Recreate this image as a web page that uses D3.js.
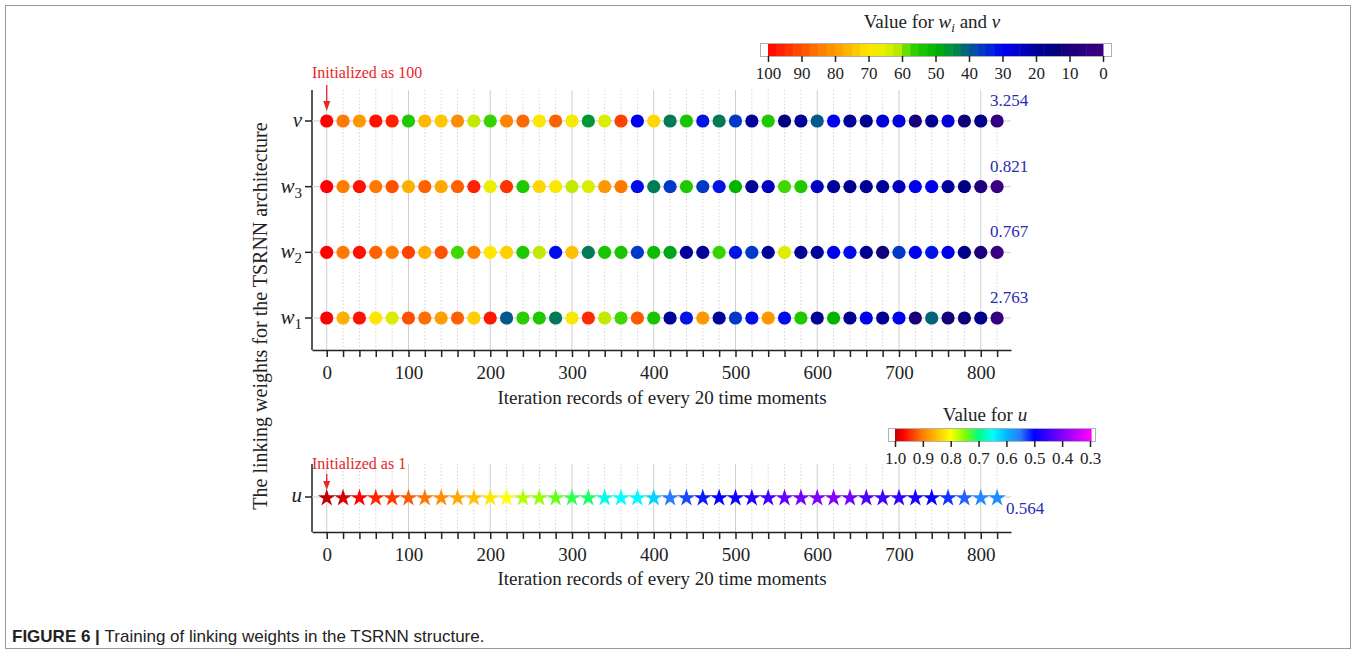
<!DOCTYPE html>
<html>
<head>
<meta charset="utf-8">
<script src="https://cdn.jsdelivr.net/npm/d3@7"></script>
<style>
  body { margin: 0; background: #fff; }
  svg { display: block; }
</style>
</head>
<body>
<svg id="chart" width="1356" height="654"></svg>
<script>
// Iteration records (every 20 time moments)
const iterations = [0, 20, 40, 60, 80, 100, 120, 140, 160, 180, 200, 220, 240, 260, 280, 300, 320, 340, 360, 380, 400,
  420, 440, 460, 480, 500, 520, 540, 560, 580, 600, 620, 640, 660, 680, 700, 720, 740, 760, 780, 800, 820];

// Linking weight values at each record
const vValues  = [100, 85, 80, 98, 96, 55, 76, 74, 82, 62, 57, 83, 87, 70, 88, 68, 46, 64, 92, 30, 72,
  43, 54, 32, 43, 36, 20, 55, 15, 20, 40, 30, 20, 18, 27, 28, 10, 19, 27, 12, 17, 3.254];
const w3Values = [100, 84, 98, 85, 90, 77, 88, 78, 88, 96, 66, 94, 55, 72, 69, 62, 64, 80, 85, 31, 43,
  36, 55, 36, 32, 50, 20, 24, 58, 55, 24, 20, 18, 19, 20, 24, 30, 30, 20, 16, 8, 0.821];
const w2Values = [100, 85, 98, 88, 84, 92, 77, 90, 58, 84, 70, 73, 55, 62, 31, 75, 43, 54, 54, 36, 52,
  48, 20, 20, 57, 32, 36, 19, 64, 19, 20, 30, 31, 18, 12, 36, 30, 32, 29, 17, 9, 0.767];
const w1Values = [100, 77, 98, 70, 64, 90, 86, 79, 88, 73, 97, 40, 56, 55, 43, 68, 95, 62, 58, 89, 54,
  20, 32, 80, 20, 36, 31, 80, 31, 55, 19, 50, 19, 30, 19, 30, 10, 41, 11, 12, 17, 2.763];
const uValues  = [1.0, 0.99, 0.97, 0.95, 0.94, 0.92, 0.905, 0.89, 0.87, 0.85, 0.82, 0.80, 0.77, 0.76, 0.74, 0.72, 0.71, 0.66, 0.65, 0.645, 0.62,
  0.55, 0.53, 0.51, 0.50, 0.49, 0.47, 0.45, 0.42, 0.41, 0.40, 0.40, 0.41, 0.44, 0.45, 0.46, 0.48, 0.50, 0.52, 0.54, 0.56, 0.564];

const rowNames = ["v", "w3", "w2", "w1"];
const finalLabels = ["3.254", "0.821", "0.767", "2.763"];
const xTickLabels = [0, 100, 200, 300, 400, 500, 600, 700, 800];
const wBarTicks = [100, 90, 80, 70, 60, 50, 40, 30, 20, 10, 0];
const uBarTicks = [1.0, 0.9, 0.8, 0.7, 0.6, 0.5, 0.4, 0.3];

const rows = [vValues, w3Values, w2Values, w1Values];

const svg = d3.select("#chart");
const serif = "'Liberation Serif', 'Times New Roman', serif";

// colour maps
const wColor = d3.scaleLinear()
  .domain([0, 5, 10, 15, 20, 25, 30, 33, 37, 40, 42, 45, 50, 55, 58, 60, 65, 70, 75, 80, 85, 90, 95, 100])
  .range(["#3c0080", "#2c0080", "#1a0078", "#000080", "#00009a", "#0000c8", "#0000f0", "#0020e0", "#0040c0",
          "#005a8c", "#007060", "#009040", "#00b400", "#20c800", "#40d800", "#a8e600", "#e6f000", "#ffe600",
          "#ffbf00", "#ff9800", "#ff7800", "#ff5000", "#ff2a00", "#ff0000"])
  .clamp(true);
const uColor = d3.scaleLinear()
  .domain([0.3, 0.4, 0.45, 0.5, 0.55, 0.6, 0.65, 0.7, 0.75, 0.8, 0.9, 0.97, 1.0])
  .range(["#ff00ff", "#8000ff", "#4000ff", "#0000ff", "#2a7cff", "#00b8ff", "#00ffff", "#00ff80",
          "#80ff00", "#ffff00", "#ff8000", "#ff0000", "#c00000"])
  .clamp(true);

// --- frame and caption ---
svg.append("rect").attr("x", 5.5).attr("y", 5.5).attr("width", 1345).attr("height", 643)
  .attr("fill", "none").attr("stroke", "#9a9a9a").attr("stroke-width", 1);
const cap = svg.append("text").attr("x", 12).attr("y", 642)
  .attr("font-family", "'Liberation Sans', Arial, sans-serif").attr("font-size", 17).attr("fill", "#222");
cap.append("tspan").attr("font-weight", "bold").text("FIGURE 6 | ");
cap.append("tspan").text("Training of linking weights in the TSRNN structure.");

// --- shared x scale ---
const x = d3.scaleLinear().domain([-18, 837]).range([312, 1011]);

function drawPanel(top, bottom, axisY) {
  const g = svg.append("g");
  // grid verticals
  g.selectAll("line.grid").data(iterations).join("line")
    .attr("x1", d => x(d)).attr("x2", d => x(d))
    .attr("y1", top).attr("y2", bottom)
    .attr("stroke", d => d % 100 === 0 ? "#cfcfcf" : "#d6d6d6")
    .attr("stroke-width", 1)
    .attr("stroke-dasharray", d => d % 100 === 0 ? null : "1.5,2");
  // x axis
  const ax = g.append("g").attr("transform", `translate(0,${axisY})`)
    .call(d3.axisBottom(x).tickValues(iterations).tickSize(7).tickSizeOuter(0)
      .tickFormat(d => d % 100 === 0 ? d : ""));
  ax.select(".domain").attr("stroke", "#222").attr("stroke-width", 1.5);
  ax.selectAll(".tick line").attr("stroke", "#222").attr("stroke-width", 1.5);
  ax.selectAll(".tick text").attr("font-family", serif).attr("font-size", 19).attr("fill", "#222").attr("dy", "1.0em");
  // y axis line
  g.append("line").attr("x1", 312).attr("x2", 312).attr("y1", top).attr("y2", axisY)
    .attr("stroke", "#222").attr("stroke-width", 1.5);
  return g;
}

// ===== Top panel: linking weights w_i and v =====
const yTop = d3.scalePoint().domain(rowNames).range([121, 318]);
const gTop = drawPanel(90, 350, 350);

rowNames.forEach((name, i) => {
  const yy = yTop(name);
  gTop.append("line").attr("x1", 312).attr("x2", 1011).attr("y1", yy).attr("y2", yy)
    .attr("stroke", "#cfcfcf").attr("stroke-width", 1);
  gTop.append("line").attr("x1", 305).attr("x2", 312).attr("y1", yy).attr("y2", yy)
    .attr("stroke", "#222").attr("stroke-width", 1.5);
  const lab = gTop.append("text").attr("x", 302).attr("y", yy + 6).attr("text-anchor", "end")
    .attr("font-family", serif).attr("font-size", 21).attr("font-style", "italic").attr("fill", "#222");
  if (name === "v") {
    lab.text("v");
  } else {
    lab.append("tspan").text("w");
    lab.append("tspan").attr("font-style", "normal").attr("font-size", 15).attr("dy", 5).text(name.slice(1));
  }
  gTop.selectAll(null).data(iterations).join("circle")
    .attr("cx", d => x(d)).attr("cy", yy).attr("r", 6.6)
    .attr("fill", (d, j) => wColor(rows[i][j]));
  gTop.append("text").attr("x", 1009).attr("y", yy - 15).attr("text-anchor", "middle")
    .attr("font-family", serif).attr("font-size", 17).attr("fill", "#2a2ab4").text(finalLabels[i]);
});

svg.append("text").attr("x", 662).attr("y", 404).attr("text-anchor", "middle")
  .attr("font-family", serif).attr("font-size", 19).attr("fill", "#222")
  .text("Iteration records of every 20 time moments");

// initialization annotation (top)
svg.append("text").attr("x", 312).attr("y", 78).attr("font-family", serif).attr("font-size", 16)
  .attr("fill", "#e8262a").text("Initialized as 100");
svg.append("line").attr("x1", x(0)).attr("x2", x(0)).attr("y1", 85).attr("y2", 104)
  .attr("stroke", "#e8262a").attr("stroke-width", 1.3);
svg.append("path").attr("d", `M${x(0) - 3.5},${101} L${x(0) + 3.5},${101} L${x(0)},${111} Z`).attr("fill", "#e8262a");

// ===== Bottom panel: u =====
const uY = 497;
const gBot = drawPanel(464, 532, 532);
gBot.append("line").attr("x1", 312).attr("x2", 1011).attr("y1", uY).attr("y2", uY)
  .attr("stroke", "#cfcfcf").attr("stroke-width", 1);
gBot.append("line").attr("x1", 305).attr("x2", 312).attr("y1", uY).attr("y2", uY)
  .attr("stroke", "#222").attr("stroke-width", 1.5);
gBot.append("text").attr("x", 302).attr("y", uY + 5).attr("text-anchor", "end")
  .attr("font-family", serif).attr("font-size", 21).attr("font-style", "italic").attr("fill", "#222").text("u");
const star = d3.symbol().type(d3.symbolStar).size(95);
gBot.selectAll(null).data(iterations).join("path")
  .attr("d", star).attr("transform", d => `translate(${x(d)},${uY + 1})`)
  .attr("fill", (d, j) => uColor(uValues[j]));
gBot.append("text").attr("x", 1006).attr("y", uY + 17).attr("font-family", serif).attr("font-size", 17)
  .attr("fill", "#2a2ab4").text("0.564");

svg.append("text").attr("x", 662).attr("y", 585).attr("text-anchor", "middle")
  .attr("font-family", serif).attr("font-size", 19).attr("fill", "#222")
  .text("Iteration records of every 20 time moments");

svg.append("text").attr("x", 312).attr("y", 469).attr("font-family", serif).attr("font-size", 16)
  .attr("fill", "#e8262a").text("Initialized as 1");
svg.append("line").attr("x1", x(0)).attr("x2", x(0)).attr("y1", 474).attr("y2", 483)
  .attr("stroke", "#e8262a").attr("stroke-width", 1.3);
svg.append("path").attr("d", `M${x(0) - 3.5},${481} L${x(0) + 3.5},${481} L${x(0)},${490} Z`).attr("fill", "#e8262a");

// y-axis title spanning both panels
svg.append("text").attr("transform", "translate(267,316) rotate(-90)").attr("text-anchor", "middle")
  .attr("font-family", serif).attr("font-size", 20).attr("fill", "#222")
  .text("The linking weights for the TSRNN architecture");

// ===== Colour bar for w_i and v (discrete steps) =====
const wb = d3.scaleLinear().domain([100, 0]).range([768, 1103]);
svg.append("rect").attr("x", 760.5).attr("y", 43.5).attr("width", 351).attr("height", 13)
  .attr("fill", "#fff").attr("stroke", "#b0b0b0");
const wSteps = d3.range(40).map(k => 100 - k * 2.5);
svg.selectAll("rect.wstep").data(wSteps).join("rect").attr("class", "wstep")
  .attr("x", d => wb(d)).attr("y", 44).attr("width", wb(97.5) - wb(100) + 0.5).attr("height", 12)
  .attr("fill", d => wColor(d - 1.25));
const wAxis = svg.append("g").attr("transform", "translate(0,56)")
  .call(d3.axisBottom(wb).tickValues(wBarTicks).tickSize(6).tickSizeOuter(0));
wAxis.select(".domain").remove();
wAxis.selectAll(".tick line").attr("stroke", "#222").attr("stroke-width", 1.5);
wAxis.selectAll(".tick text").attr("font-family", serif).attr("font-size", 17).attr("fill", "#222").attr("dy", "0.85em");
const wt = svg.append("text").attr("x", 932).attr("y", 28).attr("text-anchor", "middle")
  .attr("font-family", serif).attr("font-size", 19).attr("fill", "#222");
wt.append("tspan").text("Value for ");
wt.append("tspan").attr("font-style", "italic").text("w");
wt.append("tspan").attr("font-style", "italic").attr("font-size", 13).attr("dy", 4).text("i");
wt.append("tspan").attr("dy", -4).text(" and ");
wt.append("tspan").attr("font-style", "italic").text("v");

// ===== Colour bar for u (continuous) =====
const ub = d3.scaleLinear().domain([1.0, 0.3]).range([895, 1090]);
svg.append("rect").attr("x", 888.5).attr("y", 428.5).attr("width", 207).attr("height", 13)
  .attr("fill", "#fff").attr("stroke", "#b0b0b0");
const uSteps = d3.range(0, 196, 1);
svg.selectAll("rect.ustep").data(uSteps).join("rect").attr("class", "ustep")
  .attr("x", d => 895 + d).attr("y", 429).attr("width", 1.6).attr("height", 12)
  .attr("fill", d => uColor(ub.invert(895 + d + 0.5)));
const uAxis = svg.append("g").attr("transform", "translate(0,441)")
  .call(d3.axisBottom(ub).tickValues(uBarTicks).tickSize(6).tickSizeOuter(0).tickFormat(d3.format(".1f")));
uAxis.select(".domain").remove();
uAxis.selectAll(".tick line").attr("stroke", "#222").attr("stroke-width", 1.5);
uAxis.selectAll(".tick text").attr("font-family", serif).attr("font-size", 17).attr("fill", "#222").attr("dy", "0.85em");
const ut = svg.append("text").attr("x", 985).attr("y", 421).attr("text-anchor", "middle")
  .attr("font-family", serif).attr("font-size", 19).attr("fill", "#222");
ut.append("tspan").text("Value for ");
ut.append("tspan").attr("font-style", "italic").text("u");
</script>
</body>
</html>
